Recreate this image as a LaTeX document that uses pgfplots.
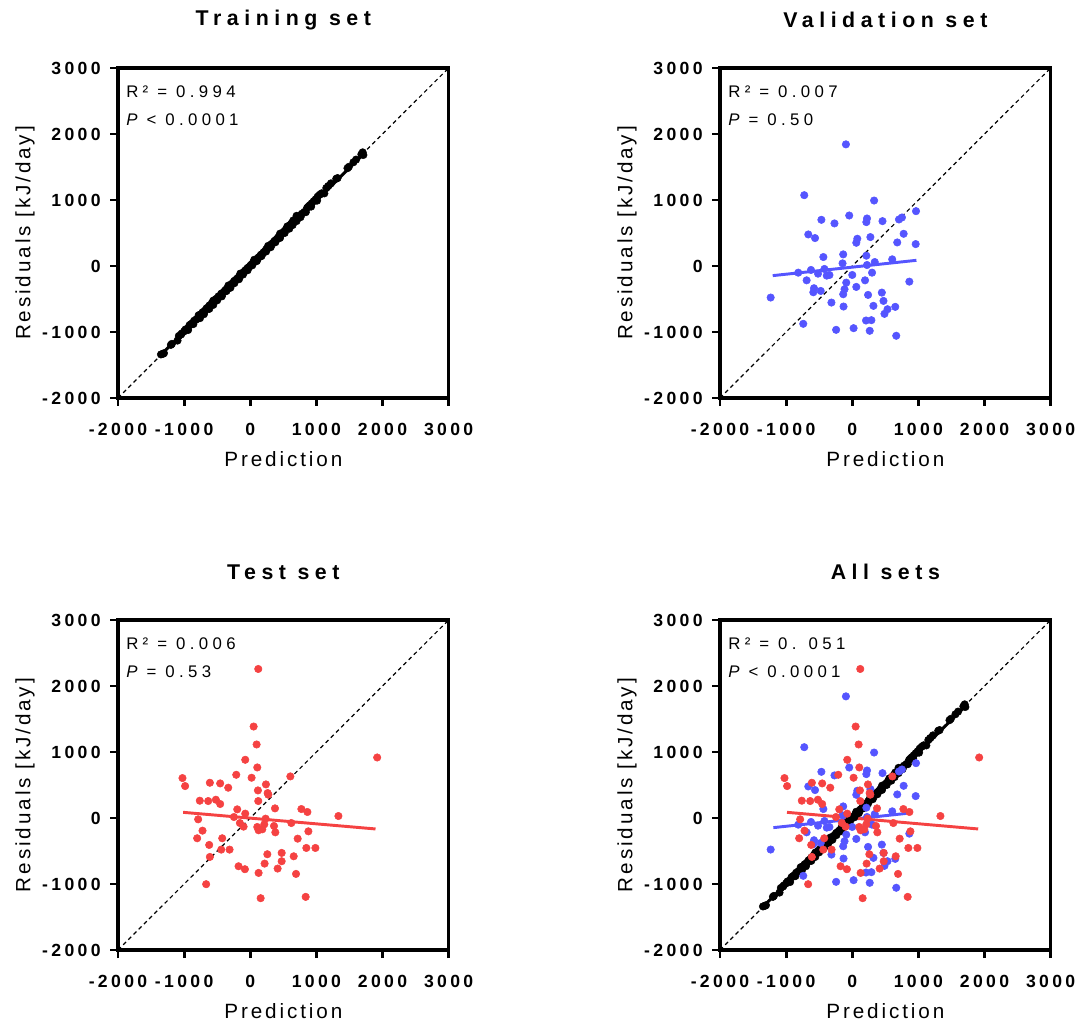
\documentclass[border=0pt]{standalone}
\usepackage{fontspec}
\setmainfont{Liberation Sans}
\newfontfamily\tickfont[LetterSpace=19]{Liberation Sans}
\newfontfamily\labfont[LetterSpace=14]{Liberation Sans}
\newfontfamily\titlefont[LetterSpace=26]{Liberation Sans}
\newfontfamily\statfont[LetterSpace=26]{Liberation Sans}
\usepackage{pgfplots}
\usepackage{pgfplotstable}
\pgfplotsset{compat=1.18}
\definecolor{vblue}{RGB}{85,85,255}
\definecolor{tred}{RGB}{245,66,66}

\pgfplotstableread{
x y
-1350 -1340
-1320 -1330
-1305 -1322
-1200 -1195
-1185 -1180
-1080 -1060
-1050 -1040
-1035 -1022
-1000 -990
-980 -962
-950 -950
-920 -900
-900 -882
-880 -872
-850 -830
-820 -812
-800 -800
-780 -772
-760 -742
-740 -732
-720 -700
-700 -692
-680 -672
-660 -640
-640 -632
-620 -600
-600 -592
-580 -560
-560 -552
-540 -532
-520 -500
-500 -492
-480 -460
-460 -457
-440 -420
-420 -412
-400 -392
-380 -370
-360 -352
-340 -325
-320 -312
-300 -292
-280 -270
-260 -252
-240 -225
-220 -212
-200 -192
-180 -176
-160 -150
-140 -132
-120 -110
-100 -96
-80 -70
-60 -56
-40 -30
-20 -16
0 5
20 25
40 46
60 60
80 86
100 100
120 126
140 140
160 170
180 180
200 206
220 220
240 252
260 266
280 286
300 300
320 332
340 346
360 372
380 390
400 406
420 432
440 450
460 472
480 496
500 510
520 532
540 556
560 570
580 602
600 620
620 642
640 660
660 682
680 700
700 722
720 742
750 760
780 792
820 820
860 882
880 900
900 922
930 950
960 982
990 1012
1020 1052
1050 1080
1080 1102
1150 1182
1180 1212
1220 1252
1300 1322
1320 1332
1470 1482
1490 1502
1560 1572
1600 1612
1680 1692
1700 1722
1710 1682
-1100 -1130
-940 -970
-860 -880
-760 -790
-700 -730
-620 -650
-560 -590
-500 -520
-430 -460
-360 -380
-300 -330
-240 -260
-170 -200
-110 -130
-40 -65
30 10
100 75
170 150
240 220
310 285
380 360
450 425
520 500
590 565
640 620
700 680
760 740
840 815
920 900
1010 990
1120 1100
-780 -745
-560 -525
-330 -295
-150 -115
60 95
270 305
450 490
560 600
650 690
700 760
}\train

\pgfplotstableread{
x y
-96 1843
-726 1073
330 992
-46 765
-467 700
-269 645
223 720
213 665
457 680
706 705
751 735
964 831
-665 478
-563 423
76 413
61 352
274 438
777 488
680 357
959 332
-437 136
-137 176
213 156
-147 40
223 15
340 60
604 101
-817 -101
-624 -60
-518 -116
-421 -45
-386 -146
-345 -136
0 -136
299 -101
-690 -217
193 -217
863 -237
-91 -252
61 -317
-579 -337
-589 -398
-477 -378
-117 -352
-137 -428
447 -403
-1234 -478
239 -438
-315 -554
472 -529
-132 -614
320 -604
650 -619
533 -655
487 -725
-741 -876
208 -826
289 -821
-244 -967
20 -942
264 -982
665 -1057
}\valid

\pgfplotstableread{
x y
121 2258
51 1386
96 1114
1919 917
-76 882
106 766
-212 655
20 610
606 630
-1025 605
-985 484
-611 534
-455 524
-333 459
237 509
116 418
263 378
273 353
121 257
-763 262
-636 257
-520 277
-455 212
-197 131
374 146
773 136
864 91
1333 30
-76 66
-247 15
-788 -20
232 -10
-157 -76
-101 -131
106 -136
212 -96
182 -171
126 -186
359 -121
379 -217
621 -76
879 -202
-722 -192
-803 -307
-424 -307
717 -313
-621 -408
-439 -479
-313 -479
848 -454
985 -454
-611 -590
258 -549
475 -529
657 -580
475 -655
-177 -731
-81 -776
217 -691
414 -766
126 -832
692 -847
-667 -1003
157 -1215
838 -1195
}\test

\pgfplotsset{
  every axis title/.style={at={(0.5,1.1455)}, anchor=center},
  resid/.style={
    scale only axis, width=248pt, height=247.5pt,
    anchor=south west,
    xmin=-2000, xmax=3000, ymin=-2000, ymax=3000,
    xtick={-2000,-1000,0,1000,2000,3000},
    ytick={-2000,-1000,0,1000,2000,3000},
    xticklabels={-2000,-1000,0,1000,2000,3000},
    yticklabels={-2000,-1000,0,1000,2000,3000},
    axis line style={line width=2.6pt},
    every tick/.style={line width=2.2pt, black},
    major tick length=6pt,
    tick align=outside, xtick pos=bottom, ytick pos=left,
    ticklabel style={font=\tickfont\bfseries\fontsize{13.2}{15}\selectfont},
    xticklabel style={yshift=-9.5pt},
    yticklabel style={xshift=-3.5pt},
    xlabel={Prediction}, ylabel={Residuals [kJ/day]},
    label style={font=\labfont\fontsize{15.5}{18}\selectfont},
    title style={font=\titlefont\bfseries\fontsize{16}{19}\selectfont},
    xlabel style={at={(0.5,-0.184)}, anchor=center},
    ylabel style={at={(-0.281,0.5)}, anchor=center},
    clip=false,
  },
  diag/.style={black, line width=0.9pt, dash pattern=on 3pt off 2.5pt},
  dots/.style={only marks, mark=*, mark size=2.8pt, mark options={draw=#1, fill=#1}},
}
\tikzset{stat/.style={anchor=west, font=\statfont\fontsize{12.6}{15}\selectfont, inner sep=0pt}}

\begin{document}
\begin{tikzpicture}
\path[use as bounding box] (0,0) rectangle (811.5pt,766.5pt);

\begin{axis}[resid, at={(88.5pt,468pt)}, title={Training set}]
\addplot[diag] coordinates {(-2000,-2000) (3000,3000)};
\addplot[dots=black] table {\train};
\addplot[black, line width=2.2pt] coordinates {(-1350,-1345) (1720,1705)};
\node[stat, xshift=6pt, yshift=-18pt] at (rel axis cs:0,1) {R² = 0.994};
\node[stat, xshift=6pt, yshift=-39pt] at (rel axis cs:0,1) {{\itshape P} < 0.0001};
\end{axis}

\begin{axis}[resid, at={(540pt,468pt)}, title={Validation set}]
\addplot[diag] coordinates {(-2000,-2000) (3000,3000)};
\addplot[dots=vblue] table {\valid};
\addplot[vblue, line width=2.2pt] coordinates {(-1203,-146) (970,86)};
\node[stat, xshift=6pt, yshift=-18pt] at (rel axis cs:0,1) {R² = 0.007};
\node[stat, xshift=6pt, yshift=-39pt] at (rel axis cs:0,1) {{\itshape P} = 0.50};
\end{axis}

\begin{axis}[resid, at={(88.5pt,54pt)}, title={Test set}]
\addplot[diag] coordinates {(-2000,-2000) (3000,3000)};
\addplot[dots=tred] table {\test};
\addplot[tred, line width=2.2pt] coordinates {(-1015,86) (1894,-166)};
\node[stat, xshift=6pt, yshift=-18pt] at (rel axis cs:0,1) {R² = 0.006};
\node[stat, xshift=6pt, yshift=-39pt] at (rel axis cs:0,1) {{\itshape P} = 0.53};
\end{axis}

\begin{axis}[resid, at={(540pt,54pt)}, title={All sets}]
\addplot[diag] coordinates {(-2000,-2000) (3000,3000)};
\addplot[dots=black] table {\train};
\addplot[black, line width=2.2pt] coordinates {(-1350,-1345) (1720,1705)};
\addplot[dots=vblue] table {\valid};
\addplot[dots=tred] table {\test};
\addplot[vblue, line width=2.2pt] coordinates {(-1193,-146) (821,70)};
\addplot[tred, line width=2.2pt] coordinates {(-987,86) (1904,-166)};
\node[stat, xshift=6pt, yshift=-18pt] at (rel axis cs:0,1) {R² = 0. 051};
\node[stat, xshift=6pt, yshift=-39pt] at (rel axis cs:0,1) {{\itshape P} < 0.0001};
\end{axis}
\end{tikzpicture}
\end{document}
